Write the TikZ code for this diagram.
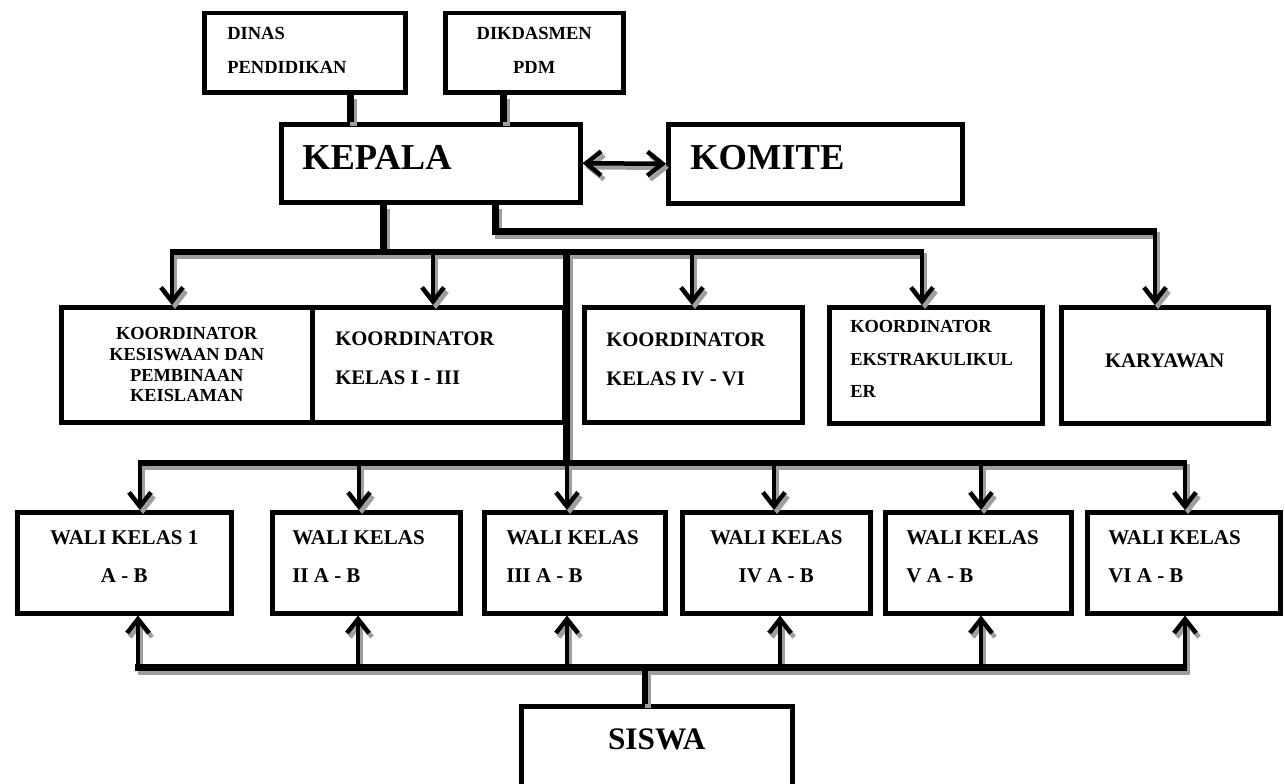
\documentclass[tikz,border=0pt]{standalone}
\usepackage{fontspec}
\setmainfont{Liberation Serif}
\usetikzlibrary{arrows.meta}
% #1 = extra depth under the last line (twice the upward shift of the text)
\newcommand\txl[3]{\parbox{#2}{\raggedright #3\rule[-#1]{0pt}{0pt}}}
\newcommand\txc[3]{\parbox{#2}{\centering #3\rule[-#1]{0pt}{0pt}}}
\newcommand\myconnectors{%
  % top stems
  \draw[cc, line width=7pt] (350,0 |- dinas.south) -- (350,0 |- kepala.north);
  \draw[cc, line width=7pt] (503,0 |- dikdas.south) -- (503,0 |- kepala.north);
  \draw[cc, line width=4.5pt, {Straight Barb[length=15pt,width=24pt]}-{Straight Barb[length=15pt,width=24pt]}] (kepala.east) -- (komite.west);
  % kepala to bus 1
  \draw[cc, line width=7pt] (383,0 |- kepala.south) -- (383,0 |- b1w);
  \draw[cc, line width=6pt] ([xshift=-2pt]b1w) -- ([xshift=2pt]b1e);
  \draw[cc, shaft] (b1w) -- (b1w |- kes.north);
  \draw[cc, shaft] (433,0 |- b1w) -- (433,0 |- k13.north);
  \draw[cc, shaft] (692,0 |- b1w) -- (692,0 |- k46.north);
  \draw[cc, shaft] (b1e) -- (b1e |- eks.north);
  % karyawan line
  \draw[cc, line width=7pt] (kyA |- kepala.south) -- (kyA) -- ([xshift=2pt]kyB);
  \draw[cc, shaft] (kyB) -- (kyB |- kary.north);
  % stem to bus 2
  \draw[cc, line width=7pt] (566,0 |- b1w) -- (566,0 |- b2w);
  \draw[cc, line width=6.5pt] ([xshift=-2pt]b2w) -- ([xshift=2pt]b2e);
  \draw[cc, shaft] (b2w) -- (b2w |- w1.north);
  \draw[cc, shaft] (359,0 |- b2w) -- (359,0 |- w2.north);
  \draw[cc, shaft] (567,0 |- b2w) -- (567,0 |- w3.north);
  \draw[cc, shaft] (774,0 |- b2w) -- (774,0 |- w4.north);
  \draw[cc, shaft] (981,0 |- b2w) -- (981,0 |- w5.north);
  \draw[cc, shaft] (b2e) -- (b2e |- w6.north);
  % bus 3 and siswa
  \draw[cc, line width=7pt] ([xshift=-3pt]b3w) -- ([xshift=2pt]b3e);
  \draw[cc, shaft] (b3w) -- (b3w |- w1.south);
  \draw[cc, shaft] (358,0 |- b3w) -- (358,0 |- w2.south);
  \draw[cc, shaft] (567,0 |- b3w) -- (567,0 |- w3.south);
  \draw[cc, shaft] (780,0 |- b3w) -- (780,0 |- w4.south);
  \draw[cc, shaft] (981,0 |- b3w) -- (981,0 |- w5.south);
  \draw[cc, shaft] (b3e) -- (b3e |- w6.south);
  \draw[cc, line width=6pt] (645,0 |- siswa.north) -- (645,0 |- b3w);
}
\begin{document}
\begin{tikzpicture}[x=1pt,y=-1pt,
  box/.style={draw, line width=4.5pt, anchor=north west, inner sep=0pt},
  cc/.style={draw=black},
  shaft/.style={line width=4.5pt, -{Straight Barb[length=14pt,width=22pt]}},
  fA/.style={font=\bfseries\fontsize{18.5}{34}\selectfont},
  fB/.style={font=\bfseries\fontsize{36.5}{40}\selectfont},
  fC/.style={font=\bfseries\fontsize{18.4}{20.7}\selectfont},
  fD/.style={font=\bfseries\fontsize{20.7}{39}\selectfont},
  fE/.style={font=\bfseries\fontsize{18.4}{32.5}\selectfont},
  fW/.style={font=\bfseries\fontsize{21}{38}\selectfont},
  fS/.style={font=\bfseries\fontsize{31.3}{36}\selectfont}]
\useasboundingbox (0,0) rectangle (1285,784);
% top
\node[box, fA, inner xsep=23pt, minimum width=201pt, minimum height=79pt] (dinas) at (202,11) {\txl{4pt}{155pt}{DINAS\\PENDIDIKAN}};
\node[box, fA, minimum width=178pt, minimum height=79pt] (dikdas) at (443,11) {\txc{4pt}{170pt}{DIKDASMEN\\PDM}};
\node[box, fB, inner xsep=21pt, minimum width=299pt, minimum height=78pt] (kepala) at (279,122) {\txl{12pt}{257pt}{KEPALA}};
\node[box, fB, inner xsep=22pt, minimum width=294pt, minimum height=79pt] (komite) at (666,122) {\txl{12pt}{250pt}{KOMITE}};
% koordinator row
\node[box, fC, minimum width=251pt, minimum height=115pt] (kes) at (59,305) {\txc{0pt}{240pt}{KOORDINATOR\\KESISWAAN DAN\\PEMBINAAN\\KEISLAMAN}};
\node[box, fD, inner xsep=23pt, minimum width=252pt, minimum height=115pt] (k13) at (310,305) {\txl{14pt}{206pt}{KOORDINATOR\\KELAS I - III}};
\node[box, fD, inner xsep=22pt, minimum width=218pt, minimum height=115pt] (k46) at (582,305) {\txl{11pt}{174pt}{KOORDINATOR\\KELAS IV - VI}};
\node[box, fE, inner xsep=21pt, minimum width=213pt, minimum height=116pt] (eks) at (827,305) {\txl{12pt}{171pt}{KOORDINATOR\\EKSTRAKULIKUL\\ER}};
\node[box, fD, minimum width=207pt, minimum height=116pt] (kary) at (1059,305) {\txc{10pt}{200pt}{KARYAWAN}};
% wali row
\node[box, fW, minimum width=214pt, minimum height=101pt] (w1) at (15,510) {\txc{12pt}{205pt}{WALI KELAS 1\\A - B}};
\node[box, fW, inner xsep=20pt, minimum width=188pt, minimum height=101pt] (w2) at (270,510) {\txl{12pt}{148pt}{WALI KELAS\\II A - B}};
\node[box, fW, inner xsep=22pt, minimum width=181pt, minimum height=101pt] (w3) at (482,510) {\txl{12pt}{137pt}{WALI KELAS\\III A - B}};
\node[box, fW, minimum width=188pt, minimum height=101pt] (w4) at (680,510) {\txc{12pt}{180pt}{WALI KELAS\\IV A - B}};
\node[box, fW, inner xsep=21pt, minimum width=186pt, minimum height=101pt] (w5) at (883,510) {\txl{12pt}{144pt}{WALI KELAS\\V A - B}};
\node[box, fW, inner xsep=21pt, minimum width=193pt, minimum height=101pt] (w6) at (1085,510) {\txl{12pt}{151pt}{WALI KELAS\\VI A - B}};
% siswa
\node[box, fS, minimum width=271pt, minimum height=84pt] (siswa) at (519,704) {\txc{18pt}{260pt}{SISWA}};
% bus coordinates
\coordinate (b1w) at (172,252); \coordinate (b1e) at (922,252);
\coordinate (kyA) at (495,231); \coordinate (kyB) at (1155,231);
\coordinate (b2w) at (140,463); \coordinate (b2e) at (1185,463);
\coordinate (b3w) at (138,667); \coordinate (b3e) at (1185,667);
% shadows then lines
\begin{scope}[transform canvas={shift={(3pt,-4pt)}}, cc/.style={draw=black!38}]
\myconnectors
\end{scope}
\myconnectors
\end{tikzpicture}
\end{document}
